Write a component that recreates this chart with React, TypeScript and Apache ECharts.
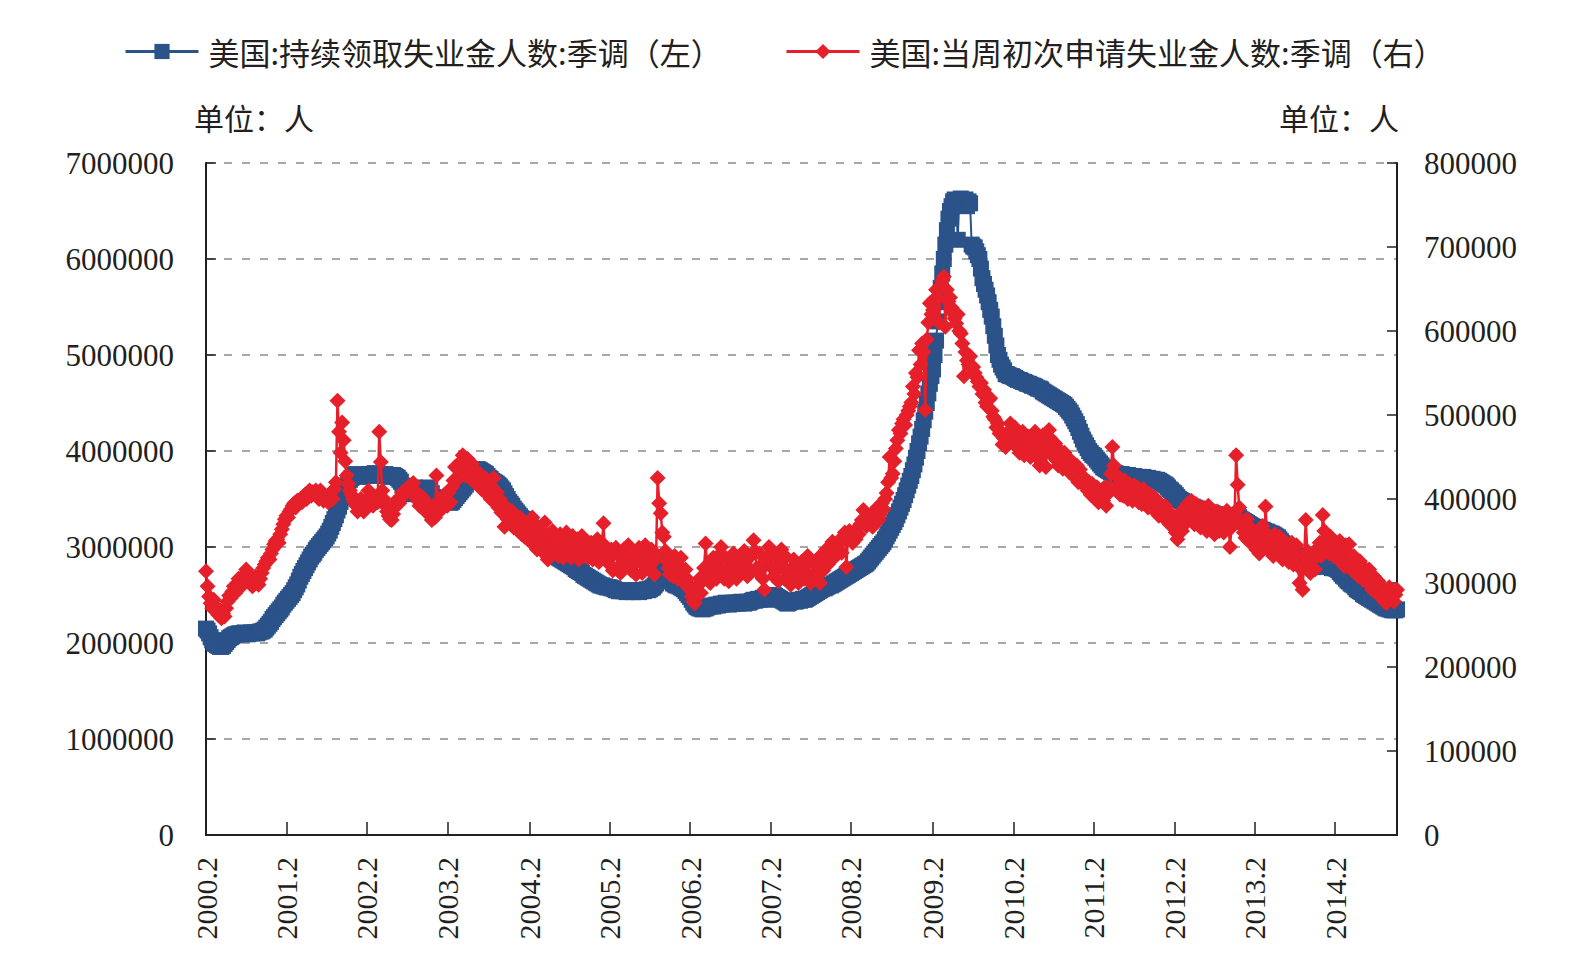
import { useEffect, useRef } from "react";
import * as echarts from "echarts";

// Weekly US unemployment insurance claims, seasonally adjusted.
// One row per year, running from the first week ending in February.
const FIRST_WEEK_ENDING = Date.UTC(2000, 1, 5);

const yearTicks = [
  "2000.2", "2001.2", "2002.2", "2003.2", "2004.2", "2005.2", "2006.2", "2007.2",
  "2008.2", "2009.2", "2010.2", "2011.2", "2012.2", "2013.2", "2014.2",
];

// Continuing claims, thousands of persons (left axis)
const continuingClaimsK: number[] = [
  // 2000
  2150, 2130, 2100, 2060, 2030, 2000, 1990, 1980, 1970, 1960,
  1960, 1970, 1990, 2010, 2030, 2050, 2060, 2070, 2080, 2090,
  2090, 2100, 2100, 2090, 2100, 2110, 2100, 2090, 2100, 2110,
  2100, 2110, 2110, 2100, 2110, 2120, 2120, 2130, 2140, 2160,
  2180, 2200, 2220, 2250, 2270, 2290, 2310, 2330, 2350, 2370,
  2400, 2420,
  // 2001
  2440, 2460, 2480, 2500, 2520, 2550, 2580, 2610, 2650, 2690,
  2720, 2750, 2780, 2810, 2840, 2870, 2900, 2920, 2940, 2970,
  2990, 3010, 3030, 3050, 3070, 3090, 3110, 3140, 3170, 3210,
  3250, 3290, 3330, 3380, 3420, 3470, 3520, 3560, 3600, 3640,
  3670, 3700, 3720, 3740, 3750, 3760, 3750, 3740, 3730, 3740,
  3750, 3740,
  // 2002
  3740, 3750, 3760, 3750, 3760, 3770, 3760, 3750, 3760, 3750,
  3740, 3750, 3760, 3750, 3740, 3730, 3740, 3750, 3740, 3730,
  3720, 3700, 3680, 3640, 3600, 3580, 3560, 3550, 3560, 3580,
  3600, 3620, 3610, 3600, 3580, 3560, 3540, 3520, 3560, 3600,
  3620, 3600, 3560, 3520, 3480, 3460, 3450, 3440, 3450, 3460,
  3470, 3480,
  // 2003
  3480, 3470, 3460, 3470, 3490, 3510, 3530, 3550, 3570, 3590,
  3610, 3630, 3650, 3680, 3710, 3740, 3770, 3790, 3800, 3810,
  3810, 3800, 3790, 3780, 3770, 3760, 3740, 3720, 3710, 3690,
  3680, 3670, 3660, 3645, 3630, 3610, 3590, 3560, 3530, 3500,
  3470, 3450, 3430, 3400, 3380, 3360, 3340, 3320, 3300, 3290,
  3270, 3250, 3240,
  // 2004
  3230, 3210, 3190, 3170, 3150, 3120, 3100, 3080, 3060, 3040,
  3020, 3000, 2990, 2970, 2950, 2940, 2930, 2920, 2900, 2890,
  2880, 2870, 2860, 2850, 2840, 2830, 2820, 2810, 2800, 2790,
  2770, 2760, 2750, 2740, 2730, 2710, 2700, 2690, 2680, 2670,
  2660, 2650, 2640, 2630, 2620, 2610, 2600, 2600, 2590, 2590,
  2580, 2580,
  // 2005
  2580, 2570, 2570, 2560, 2550, 2550, 2540, 2540, 2550, 2540,
  2540, 2530, 2540, 2550, 2540, 2530, 2540, 2550, 2540, 2530,
  2540, 2550, 2540, 2550, 2560, 2550, 2560, 2570, 2580, 2600,
  2620, 2680, 2750, 2800, 2820, 2800, 2770, 2730, 2690, 2660,
  2640, 2620, 2610, 2600, 2600, 2590, 2580, 2570, 2560, 2540,
  2520, 2500,
  // 2006
  2480, 2450, 2420, 2400, 2380, 2370, 2360, 2360, 2350, 2360,
  2360, 2370, 2380, 2380, 2390, 2380, 2390, 2400, 2390, 2400,
  2410, 2400, 2410, 2420, 2410, 2400, 2410, 2420, 2410, 2420,
  2420, 2410, 2420, 2430, 2420, 2410, 2420, 2430, 2420, 2430,
  2440, 2450, 2440, 2450, 2460, 2450, 2460, 2470, 2460, 2450,
  2460, 2470,
  // 2007
  2480, 2490, 2500, 2490, 2480, 2470, 2460, 2450, 2440, 2430,
  2420, 2410, 2420, 2430, 2440, 2440, 2430, 2440, 2450, 2440,
  2450, 2460, 2450, 2460, 2470, 2480, 2490, 2500, 2510, 2520,
  2530, 2540, 2550, 2560, 2570, 2570, 2580, 2590, 2600, 2600,
  2610, 2620, 2630, 2640, 2650, 2660, 2670, 2680, 2690, 2700,
  2710, 2720,
  // 2008
  2730, 2740, 2750, 2760, 2770, 2780, 2790, 2800, 2810, 2820,
  2830, 2850, 2870, 2890, 2910, 2930, 2950, 2970, 2990, 3010,
  3030, 3050, 3080, 3110, 3140, 3170, 3200, 3230, 3260, 3290,
  3330, 3370, 3410, 3450, 3490, 3540, 3590, 3640, 3690, 3740,
  3800, 3860, 3930, 4000, 4080, 4150, 4230, 4320, 4410, 4500,
  4600, 4700, 4780,
  // 2009
  4850, 5000, 5150, 5350, 5550, 5700, 5850, 6000, 6150, 6300,
  6420, 6500, 6550, 6600, 6620, 6580, 6200, 6600, 6630, 6580,
  6600, 6620, 6550, 6600, 6580, 6150, 6130, 6120, 6080, 6040,
  6000, 5900, 5800, 5740, 5680, 5620, 5550, 5470, 5400, 5300,
  5200, 5100, 5000, 4950, 4900, 4870, 4840, 4800, 4800, 4790,
  4780, 4780,
  // 2010
  4770, 4760, 4750, 4740, 4740, 4730, 4720, 4720, 4710, 4700,
  4700, 4690, 4680, 4680, 4670, 4660, 4650, 4650, 4640, 4620,
  4610, 4600, 4590, 4580, 4570, 4560, 4550, 4540, 4530, 4520,
  4510, 4500, 4490, 4480, 4460, 4440, 4420, 4400, 4370, 4340,
  4310, 4280, 4240, 4200, 4160, 4120, 4090, 4060, 4030, 4000,
  3980, 3960,
  // 2011
  3950, 3930, 3910, 3890, 3870, 3850, 3830, 3820, 3810, 3800,
  3790, 3780, 3780, 3770, 3770, 3760, 3760, 3750, 3760, 3750,
  3750, 3740, 3750, 3740, 3740, 3730, 3740, 3730, 3720, 3730,
  3720, 3720, 3730, 3720, 3710, 3720, 3710, 3700, 3710, 3700,
  3690, 3700, 3690, 3680, 3670, 3660, 3650, 3640, 3620, 3600,
  3590, 3570,
  // 2012
  3560, 3540, 3520, 3500, 3490, 3480, 3470, 3460, 3450, 3440,
  3430, 3420, 3420, 3410, 3400, 3400, 3390, 3390, 3380, 3380,
  3370, 3370, 3360, 3360, 3350, 3350, 3340, 3340, 3330, 3330,
  3320, 3320, 3310, 3310, 3300, 3300, 3290, 3290, 3280, 3300,
  3320, 3330, 3310, 3290, 3280, 3270, 3260, 3250, 3240, 3230,
  3220, 3210,
  // 2013
  3210, 3200, 3200, 3190, 3180, 3180, 3170, 3160, 3160, 3150,
  3140, 3140, 3130, 3120, 3110, 3100, 3080, 3060, 3040, 3020,
  3000, 2990, 2980, 2960, 2950, 2930, 2920, 2900, 2880, 2870,
  2860, 2850, 2840, 2830, 2820, 2810, 2800, 2800, 2790, 2800,
  2810, 2800, 2810, 2820, 2810, 2800, 2810, 2820, 2800, 2790,
  2780, 2780,
  // 2014
  2780, 2770, 2760, 2740, 2720, 2700, 2690, 2670, 2650, 2640,
  2620, 2610, 2600, 2580, 2560, 2550, 2540, 2530, 2510, 2500,
  2490, 2480, 2470, 2460, 2450, 2440, 2430, 2420, 2410, 2400,
  2390, 2380, 2370, 2360, 2360, 2350, 2350, 2340, 2350, 2340,
  2350,
];

// Initial claims in the week, thousands of persons (right axis)
const initialClaimsK: number[] = [
  // 2000
  314, 296, 284, 276, 270, 280, 272, 266, 262, 268,
  258, 264, 260, 270, 278, 285, 282, 290, 296, 288,
  298, 305, 300, 296, 304, 310, 316, 312, 306, 300,
  296, 302, 308, 300, 298, 305, 312, 318, 322, 326,
  330, 328, 335, 340, 346, 350, 352, 348, 358, 364,
  370, 376,
  // 2001
  380, 378, 385, 388, 392, 395, 390, 398, 395, 400,
  396, 402, 405, 400, 408, 410, 404, 408, 407, 410,
  405, 400, 410, 402, 398, 404, 400, 396, 402, 408,
  400, 412, 420, 517, 480, 455, 491, 470, 445, 428,
  418, 410, 405, 400, 396, 392, 385, 395, 400, 390,
  385, 392,
  // 2002
  400, 410, 395, 405, 392, 398, 402, 396, 480, 444,
  410, 400, 392, 385, 380, 376, 375, 382, 390, 396,
  400, 395, 402, 408, 405, 410, 412, 415, 408, 412,
  419, 410, 402, 398, 392, 396, 402, 390, 385, 395,
  388, 380, 375, 392, 378, 428, 390, 385, 392, 400,
  405, 398,
  // 2003
  392, 408, 396, 414, 422, 438, 422, 435, 442, 445,
  452, 436, 428, 448, 432, 424, 442, 428, 420, 432,
  416, 430, 412, 426, 410, 424, 405, 420, 400, 414,
  425, 396, 408, 390, 400, 384, 394, 367, 388, 376,
  387, 370, 385, 366, 380, 368, 362, 378, 358, 374,
  355, 370, 352,
  // 2004
  365, 350, 378, 345, 368, 340, 362, 352, 338, 360,
  372, 342, 328, 358, 340, 362, 335, 355, 345, 332,
  358, 340, 330, 352, 360, 335, 348, 330, 356, 342,
  335, 352, 328, 345, 356, 332, 342, 350, 330, 340,
  348, 328, 345, 335, 352, 325, 340, 348, 371, 332,
  326, 340,
  // 2005
  322, 340, 315, 335, 342, 318, 336, 312, 330, 340,
  320, 336, 345, 322, 315, 338, 328, 310, 326, 342,
  325, 312, 336, 345, 318, 332, 315, 340, 325, 310,
  332, 425, 395, 383, 360, 355, 338, 326, 318, 310,
  325, 308, 332, 315, 305, 320, 330, 310, 300, 316,
  305, 298,
  // 2006
  292, 284, 278, 276, 288, 298, 305, 288, 302, 318,
  347, 318, 305, 300, 322, 330, 310, 305, 332, 315,
  343, 315, 305, 330, 318, 302, 326, 312, 335, 318,
  305, 322, 332, 312, 318, 338, 320, 308, 330, 312,
  334, 351, 338, 318, 312, 335, 318, 305, 292, 322,
  330, 343,
  // 2007
  332, 318, 308, 335, 315, 302, 328, 340, 318, 305,
  331, 315, 302, 298, 318, 328, 308, 322, 300, 316,
  325, 310, 305, 322, 332, 308, 300, 325, 312, 306,
  322, 330, 300, 326, 315, 335, 340, 322, 336, 345,
  349, 330, 346, 334, 350, 351, 336, 352, 360, 319,
  354, 362,
  // 2008
  355, 348, 360, 352, 365, 358, 370, 375, 387, 372,
  368, 378, 380, 375, 367, 385, 378, 390, 375, 382,
  395, 388, 400, 407, 420, 450, 425, 430, 445, 460,
  470, 482, 478, 490, 495, 488, 500, 505, 510, 515,
  534, 525, 550, 545, 577, 560, 585, 575, 506, 590,
  610, 633, 620,
  // 2009
  625, 638, 649, 640, 610, 652, 660, 665, 605, 649,
  635, 640, 628, 621, 615, 609, 620, 600, 597, 585,
  546, 575, 565, 560, 570, 556, 557, 550, 545, 540,
  534, 538, 525, 530, 515, 510, 518, 520, 505, 498,
  495, 485, 490, 478, 480, 465, 472, 462, 468, 480,
  490, 475,
  // 2010
  470, 485, 462, 476, 455, 470, 480, 452, 468, 458,
  474, 450, 465, 475, 480, 456, 448, 440, 468, 476,
  455, 438, 468, 482, 472, 456, 450, 466, 446, 440,
  458, 444, 436, 455, 448, 440, 432, 446, 430, 442,
  425, 440, 420, 435, 424, 418, 425, 415, 410, 420,
  405, 418,
  // 2011
  412, 400, 414, 396, 399, 410, 398, 414, 392, 406,
  415, 430, 462, 440, 412, 428, 415, 405, 418, 404,
  422, 408, 400, 418, 406, 398, 416, 404, 414, 396,
  408, 394, 412, 396, 404, 390, 406, 395, 388, 402,
  386, 398, 380, 394, 385, 378, 392, 375, 386, 370,
  378, 368,
  // 2012
  368, 360, 352, 375, 384, 362, 378, 390, 372, 395,
  380, 398, 385, 370, 394, 378, 372, 366, 390, 376,
  370, 362, 392, 380, 372, 364, 358, 378, 385, 362,
  370, 382, 360, 368, 386, 374, 343, 366, 374, 380,
  452, 417, 390, 375, 368, 360, 354, 376, 350, 366,
  348, 362,
  // 2013
  350, 340, 362, 335, 355, 368, 345, 391, 358, 340,
  352, 336, 332, 358, 344, 335, 355, 342, 328, 350,
  336, 346, 325, 340, 348, 322, 334, 345, 320, 300,
  318, 292, 332, 375, 338, 322, 312, 328, 335, 316,
  332, 342, 348, 332, 381, 362, 345, 350, 335, 355,
  340, 332,
  // 2014
  348, 335, 328, 350, 338, 332, 320, 345, 326, 346,
  332, 315, 332, 320, 312, 308, 326, 310, 304, 318,
  306, 300, 316, 298, 292, 308, 296, 290, 302, 284,
  296, 280, 290, 276, 286, 295, 280, 290, 278, 286,
  292,
];

const CONTINUING_NAME = "美国:持续领取失业金人数:季调（左）";
const INITIAL_NAME = "美国:当周初次申请失业金人数:季调（右）";
const UNIT_LABEL = "单位：人";

const BLUE = "#2b5289";
const RED = "#e5202a";
const INK = "#231f20";
const CJK_FONT = '"Noto Sans CJK SC", "Noto Sans", sans-serif';
const NUM_FONT = '"Liberation Serif", "DejaVu Serif", serif';

// Week-ending dates, one per data point
const weekDates: string[] = continuingClaimsK.map((_, i) =>
  new Date(FIRST_WEEK_ENDING + i * 7 * 86400000).toISOString().slice(0, 10)
);

const toMonthLabel = (date: string): string => {
  const [y, m] = date.split("-");
  return `${y}.${Number(m)}`;
};

// A year tick sits on the first week ending in February
const isYearTick = (index: number): boolean => {
  const date = weekDates[index];
  if (!date) return false;
  const day = Number(date.slice(8, 10));
  return day <= 7 && yearTicks.includes(toMonthLabel(date));
};

const legendText = { fontFamily: CJK_FONT, fontSize: 31, color: INK, padding: [0, 0, 0, 5] };

export default function App() {
  const ref = useRef<HTMLDivElement>(null);

  useEffect(() => {
    if (!ref.current) return;
    const chart = echarts.init(ref.current, undefined, { renderer: "svg" });

    const axisLine = { show: true, lineStyle: { color: INK, width: 2 } };

    chart.setOption({
      animation: false,
      backgroundColor: "#ffffff",
      textStyle: { fontFamily: NUM_FONT, color: INK },
      grid: { left: 206, right: 189, top: 163, bottom: 129, containLabel: false },
      legend: [
        {
          data: [CONTINUING_NAME],
          left: 119,
          top: 31,
          itemWidth: 73,
          itemHeight: 19,
          lineStyle: { width: 3 },
          textStyle: legendText,
          selectedMode: false,
        },
        {
          data: [INITIAL_NAME],
          left: 780,
          top: 31,
          itemWidth: 73,
          itemHeight: 19,
          lineStyle: { width: 3 },
          textStyle: legendText,
          selectedMode: false,
        },
      ],
      graphic: [
        {
          type: "text",
          left: 194,
          top: 102,
          style: { text: UNIT_LABEL, font: `30px ${CJK_FONT}`, fill: INK },
        },
        {
          type: "text",
          right: 187,
          top: 102,
          style: { text: UNIT_LABEL, font: `30px ${CJK_FONT}`, fill: INK },
        },
      ],
      xAxis: {
        type: "category",
        data: weekDates,
        boundaryGap: false,
        axisLine,
        axisTick: {
          show: true,
          inside: true,
          length: 13,
          interval: (i: number) => isYearTick(i),
          lineStyle: { color: INK, width: 1.5 },
        },
        axisLabel: {
          interval: (i: number) => isYearTick(i),
          formatter: (v: string) => toMonthLabel(v),
          rotate: 90,
          margin: 22,
          fontSize: 30,
          fontFamily: NUM_FONT,
          color: INK,
        },
        splitLine: { show: false },
      },
      yAxis: [
        {
          type: "value",
          position: "left",
          min: 0,
          max: 7000000,
          interval: 1000000,
          axisLine,
          axisTick: { show: true, inside: true, length: 10, lineStyle: { color: INK, width: 1.5 } },
          axisLabel: {
            formatter: (v: number) => String(v),
            margin: 32,
            fontSize: 31,
            fontFamily: NUM_FONT,
            color: INK,
          },
          splitLine: {
            show: true,
            lineStyle: { color: "#8a8a8a", width: 1.5, type: [8, 10] },
          },
        },
        {
          type: "value",
          position: "right",
          min: 0,
          max: 800000,
          interval: 100000,
          axisLine,
          axisTick: { show: true, inside: true, length: 10, lineStyle: { color: INK, width: 1.5 } },
          axisLabel: {
            formatter: (v: number) => String(v),
            margin: 27,
            fontSize: 31,
            fontFamily: NUM_FONT,
            color: INK,
          },
          splitLine: { show: false },
        },
      ],
      series: [
        {
          name: CONTINUING_NAME,
          type: "line",
          yAxisIndex: 0,
          data: continuingClaimsK.map((v) => v * 1000),
          symbol: "rect",
          symbolSize: 16,
          showAllSymbol: true,
          clip: false,
          itemStyle: { color: BLUE },
          lineStyle: { color: BLUE, width: 2 },
          emphasis: { disabled: true },
          z: 2,
        },
        {
          name: INITIAL_NAME,
          type: "line",
          yAxisIndex: 1,
          data: initialClaimsK.map((v) => v * 1000),
          symbol: "diamond",
          symbolSize: 16,
          showAllSymbol: true,
          clip: false,
          itemStyle: { color: RED },
          lineStyle: { color: RED, width: 2.5 },
          emphasis: { disabled: true },
          z: 3,
        },
      ],
    });

    return () => chart.dispose();
  }, []);

  return (
    <div
      ref={ref}
      style={{ position: "absolute", left: 0, top: 0, width: 1586, height: 964 }}
    />
  );
}
